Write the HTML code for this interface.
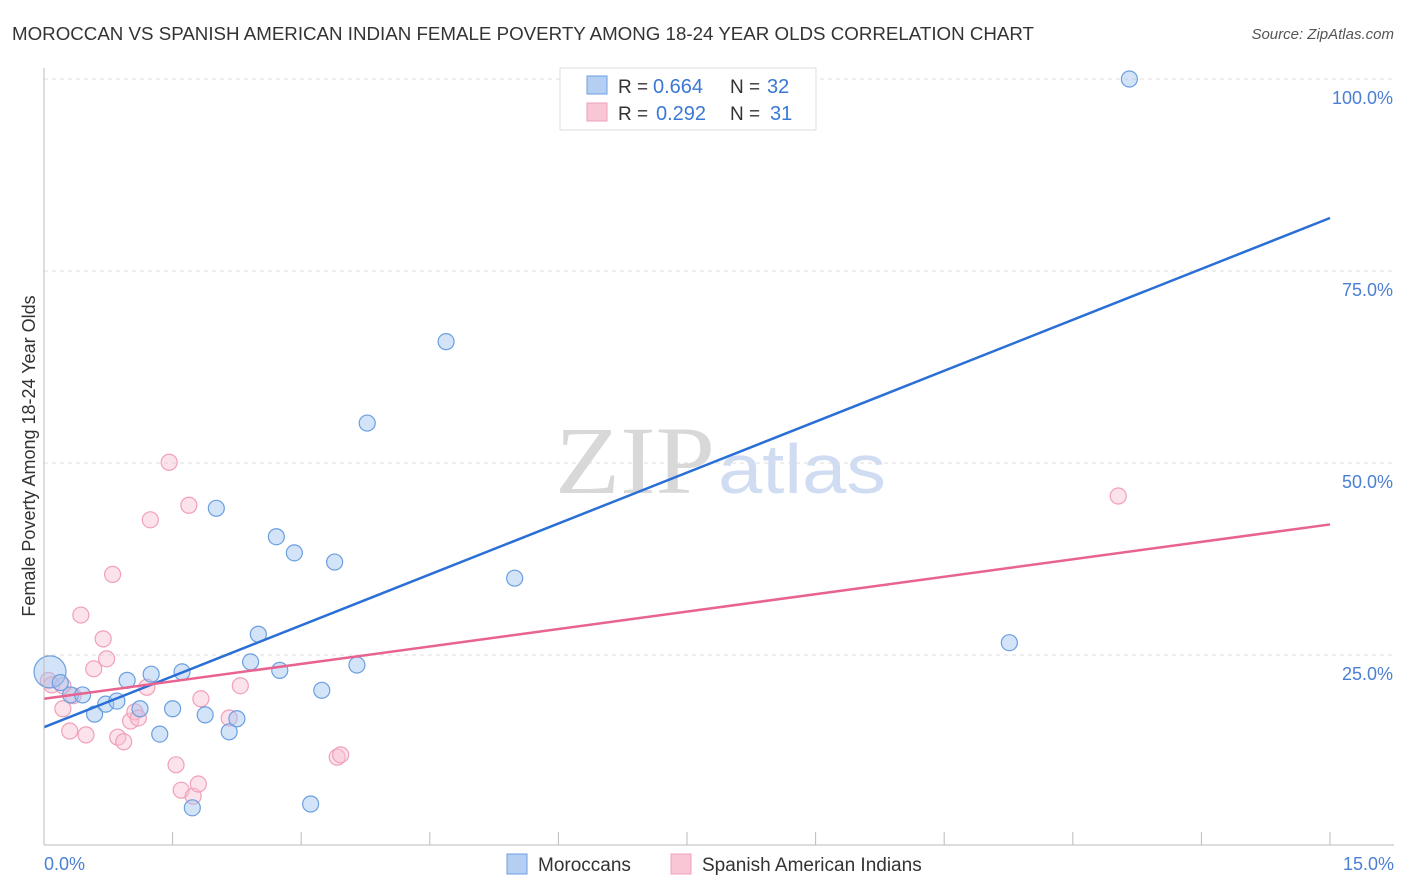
<!DOCTYPE html>
<html><head><meta charset="utf-8"><style>
body{margin:0;background:#fff;font-family:"Liberation Sans",sans-serif;}
svg{display:block}
</style></head><body>
<svg id="c" width="1406" height="892">
<text x="12" y="40" font-size="18" fill="#333" textLength="1022" lengthAdjust="spacingAndGlyphs">MOROCCAN VS SPANISH AMERICAN INDIAN FEMALE POVERTY AMONG 18-24 YEAR OLDS CORRELATION CHART</text>
<text x="1394" y="39" font-size="15" fill="#555" font-style="italic" text-anchor="end">Source: ZipAtlas.com</text>
<text x="35" y="456" font-size="18" fill="#333" text-anchor="middle" transform="rotate(-90 35 456)">Female Poverty Among 18-24 Year Olds</text>
<text x="555" y="493" font-size="96" fill="#d8d8d8" font-family="Liberation Serif,serif" textLength="160" lengthAdjust="spacingAndGlyphs">ZIP</text>
<text x="718" y="493" font-size="70" fill="#cfdcf2" textLength="168" lengthAdjust="spacingAndGlyphs">atlas</text>
<g id="grid"></g><g id="pts"></g><g id="lines"></g>
<line x1="44" y1="68" x2="44" y2="845" stroke="#bbb"/>
<line x1="44" y1="845" x2="1394" y2="845" stroke="#bbb"/>
<text x="44" y="870" font-size="18" fill="#4a7fd4">0.0%</text>
<text x="1394" y="870" font-size="18" fill="#4a7fd4" text-anchor="end">15.0%</text>
<g>
<rect x="560" y="68" width="256" height="62" fill="#fff" stroke="#ddd"/>
<rect x="587" y="76" width="20" height="18" fill="#b5cff3" stroke="#6a9fe0"/>
<rect x="587" y="103" width="20" height="18" fill="#f9c6d6" stroke="#f0a0b8"/>
<text x="618" y="93" font-size="19" fill="#333">R =</text>
<text x="653" y="93" font-size="20" fill="#3a78d4">0.664</text>
<text x="730" y="93" font-size="19" fill="#333">N =</text>
<text x="767" y="93" font-size="20" fill="#3a78d4">32</text>
<text x="618" y="120" font-size="19" fill="#333">R =</text>
<text x="656" y="120" font-size="20" fill="#3a78d4">0.292</text>
<text x="730" y="120" font-size="19" fill="#333">N =</text>
<text x="770" y="120" font-size="20" fill="#3a78d4">31</text>
</g>
<g>
<rect x="507" y="854" width="20" height="20" fill="#b5cff3" stroke="#6a9fe0"/>
<text x="538" y="871" font-size="19" fill="#333">Moroccans</text>
<rect x="671" y="854" width="20" height="20" fill="#f9c6d6" stroke="#f0a0b8"/>
<text x="702" y="871" font-size="19" fill="#333">Spanish American Indians</text>
</g>
</svg>
<script>
const yTicks=[25,50,75,100];
const yTickLabels=["25.0%","50.0%","75.0%","100.0%"];
const xTicks=[1,2,3,4,5,6,7,8,9,10];
const blueX=[0.07,0.19,0.31,0.45,0.59,0.72,0.85,0.97,1.12,1.25,1.35,1.50,1.61,1.73,1.88,2.01,2.16,2.25,2.41,2.50,2.71,2.75,2.92,3.11,3.24,3.39,3.65,3.77,4.69,5.49,11.26,12.66];
const blueY=[22.8,21.4,19.8,19.8,17.3,18.6,19.0,21.7,18.0,22.5,14.7,18.0,22.8,5.1,17.2,44.1,15.0,16.7,24.1,27.7,40.4,23.0,38.3,5.6,20.4,37.1,23.7,55.2,65.8,35.0,26.6,100.0];
const pinkX=[0.05,0.09,0.22,0.22,0.30,0.34,0.43,0.49,0.58,0.69,0.73,0.80,0.86,0.93,1.01,1.06,1.10,1.20,1.24,1.46,1.54,1.60,1.69,1.74,1.80,1.83,2.16,2.29,3.42,3.46,12.53];
const pinkY=[21.7,21.1,21.0,18.0,15.1,19.7,30.2,14.6,23.2,27.1,24.5,35.5,14.3,13.7,16.4,17.6,16.8,20.8,42.6,50.1,10.7,7.4,44.5,6.6,8.2,19.3,16.8,21.0,11.7,12.0,45.7];
const blueTrend=[15.6,81.9];
const pinkTrend=[19.3,42.0];
const NS="http://www.w3.org/2000/svg";
const sx=v=>44+v/15*1286;
const sy=v=>847-v*7.68;
function mk(tag,attrs,parent){const e=document.createElementNS(NS,tag);for(const k in attrs)e.setAttribute(k,attrs[k]);parent.appendChild(e);return e;}
const grid=document.getElementById('grid');
yTicks.forEach((t,i)=>{
 const l=mk('line',{x1:44,x2:1394,y1:sy(t),y2:sy(t),stroke:'#ddd','stroke-dasharray':'4,4'},grid);
 
 
 const tx=mk('text',{x:1393,y:sy(t)+25,'font-size':18,fill:'#4a7fd4','text-anchor':'end'},grid);
 tx.textContent=yTickLabels[i];
 
 
});
xTicks.forEach(t=>{
 const l=mk('line',{x1:sx(t*1.5),x2:sx(t*1.5),y1:832,y2:845,stroke:'#bbb'},grid);
 
 
});
const pts=document.getElementById('pts');
pinkX.forEach((x,i)=>{
 const c=mk('circle',{cx:sx(x),cy:sy(pinkY[i]),r:8,fill:'rgba(248,190,210,0.45)',stroke:'#f0a0b8','stroke-width':1.2},pts);
 
 
});
blueX.forEach((x,i)=>{
 const c=mk('circle',{cx:sx(x),cy:sy(blueY[i]),r:i===0?16:8,fill:'rgba(160,196,240,0.45)',stroke:'#6a9fe0','stroke-width':1.2},pts);
 
 
});
const lines=document.getElementById('lines');
const bl=mk('line',{x1:sx(0),y1:sy(blueTrend[0]),x2:sx(15),y2:sy(blueTrend[1]),stroke:'#2a6fd6','stroke-width':2.5},lines);


const pl=mk('line',{x1:sx(0),y1:sy(pinkTrend[0]),x2:sx(15),y2:sy(pinkTrend[1]),stroke:'#e8638f','stroke-width':2.5},lines);


</script>
</body></html>
